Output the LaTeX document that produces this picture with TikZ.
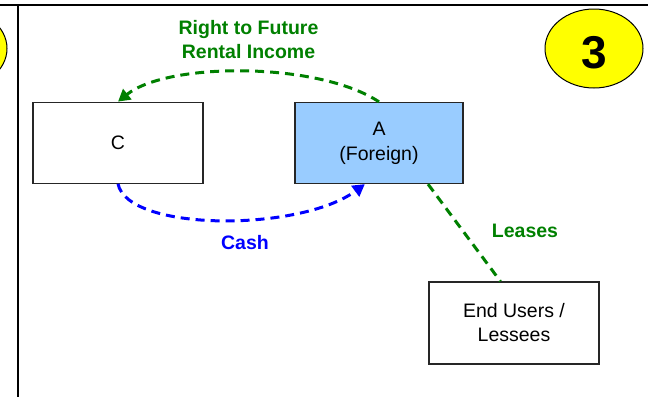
\documentclass[tikz,border=0pt]{standalone}
\usepackage{fontspec}
\setmainfont{Liberation Sans}
\usetikzlibrary{arrows.meta,shapes.geometric}
\definecolor{ggreen}{HTML}{008000}
\definecolor{bblue}{HTML}{0000FF}
\definecolor{lblue}{HTML}{99CCFF}
\definecolor{yel}{HTML}{FFFF00}
\begin{document}
\begin{tikzpicture}[x=1pt,y=-1pt,
  box/.style={draw=black!85, line width=1.3pt, minimum height=81pt, font=\fontsize{19.5}{25}\selectfont, align=center, inner sep=0pt},
  conn/.style={line width=3pt, dash pattern=on 9pt off 6pt},
  lbl/.style={font=\bfseries\fontsize{19.5}{24}\selectfont, align=center, inner sep=0pt},
  tipend/.style={-{Triangle[length=12pt,width=13pt]}},
  badge/.style={ellipse, draw=black, line width=1pt, fill=yel, minimum width=98pt, minimum height=79pt, inner sep=0pt}]
\clip (0,0) rectangle (648,397);
\useasboundingbox (0,0) rectangle (648,397);
% frame
\draw[line width=2.5pt] (0,5) -- (648,5);
\draw[line width=2.3pt] (18,5) -- (18,397);
% badges
\node[badge] (prevbadge) at (-42,48.5) {};
\node[badge, font=\bfseries\fontsize{46}{46}\selectfont, text height=39.5pt, text depth=0pt] (badge3) at (594,48.5) {3};
% boxes
\node[box, minimum width=170pt] (C) at (118,142.75) {C};
\node[box, minimum width=168pt, fill=lblue] (A) at (379,143) {A\\(Foreign)};
\node[box, minimum width=170pt, minimum height=82pt, font=\fontsize{19.5}{24}\selectfont] (E) at (514,323) {End Users /\\Lessees};
% connectors
\draw[conn, ggreen, tipend] (A.north) .. controls +(-60,-40) and +(50,-40) .. (C.north);
\draw[conn, bblue, tipend] (C.south) .. controls +(10,48) and +(-65,48) .. (A.251);
\draw[conn, ggreen] (A.-40) -- (E.108);
% labels
\node[lbl, text=ggreen] (rtfri) at (248.5,40) {Right to Future\\Rental Income};
\node[lbl, text=bblue, anchor=base] (cash) at (245,249) {Cash};
\node[lbl, text=ggreen, anchor=base] (leases) at (525,237) {Leases};
\end{tikzpicture}
\end{document}
